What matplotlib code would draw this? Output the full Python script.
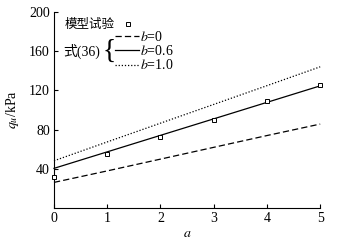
import matplotlib
matplotlib.use('Agg')
import matplotlib.pyplot as plt
import numpy as np

plt.rcParams['font.family'] = ['Liberation Serif', 'Noto Sans CJK SC']
plt.rcParams['mathtext.fontset'] = 'stix'
plt.rcParams['font.size'] = 10

# data
a = np.array([0, 1, 2, 3, 4, 5])
test_q = np.array([31.7, 55.5, 72.2, 89.8, 109.4, 125.0])
b_labels = ['0', '0.6', '1.0']
q_b0 = np.array([26.3, 38.0, 50.0, 62.0, 74.0, 85.7])
q_b06 = np.array([40.6, 57.4, 74.2, 91.0, 107.8, 124.6])
q_b10 = np.array([48.3, 67.5, 86.6, 105.7, 124.8, 144.0])

fig = plt.figure(figsize=(3.54, 2.41), dpi=100)
ax = fig.add_axes([0.1525, 0.136, 0.752, 0.815])

l0, = ax.plot(a, q_b0, color='black', lw=0.9, ls=(0, (5, 2.5)), clip_on=False)
l1, = ax.plot(a, q_b06, color='black', lw=0.9, ls='-', clip_on=False)
l2, = ax.plot(a, q_b10, color='black', lw=0.9, ls=(0, (1, 1.5)), clip_on=False)
pts, = ax.plot(a, test_q, ls='none', marker='s', ms=3.5, mfc='white', mec='black',
               mew=0.7, clip_on=False, zorder=5)

ax.set_xlim(0, 5)
ax.set_ylim(0, 200)
ax.set_xticks([0, 1, 2, 3, 4, 5])
ax.set_yticks([40, 80, 120, 160, 200])
ax.spines['top'].set_visible(False)
ax.spines['right'].set_visible(False)
ax.spines['left'].set_linewidth(0.8)
ax.spines['bottom'].set_linewidth(0.8)
ax.tick_params(direction='in', length=3, width=0.8, labelsize=10, pad=3)
ax.set_xlabel(r'$a$', fontsize=10, labelpad=1)
ax.set_ylabel(r'$q_u$/kPa', fontsize=10, labelpad=6)

leg1 = ax.legend([pts], ['模型试验'], loc='center left', bbox_to_anchor=(0.04, 0.932),
                 frameon=False, markerfirst=False, handlelength=0.8, handletextpad=0.7,
                 borderpad=0, borderaxespad=0, prop={'size': 9})
ax.add_artist(leg1)
ax.legend([l0, l1, l2], [r'$b$=' + s for s in b_labels], loc='center left',
          bbox_to_anchor=(0.228, 0.80), frameon=False, handlelength=1.75,
          handletextpad=0.1, labelspacing=0.02, borderpad=0, borderaxespad=0,
          fontsize=10)
ax.text(0.035, 0.80, '式(36)', transform=ax.transAxes, va='center', ha='left', fontsize=10)
ax.text(0.182, 0.80, '{', transform=ax.transAxes, va='center', ha='left', fontsize=20,
        fontweight='light')

fig.savefig('out.png', dpi=100)
